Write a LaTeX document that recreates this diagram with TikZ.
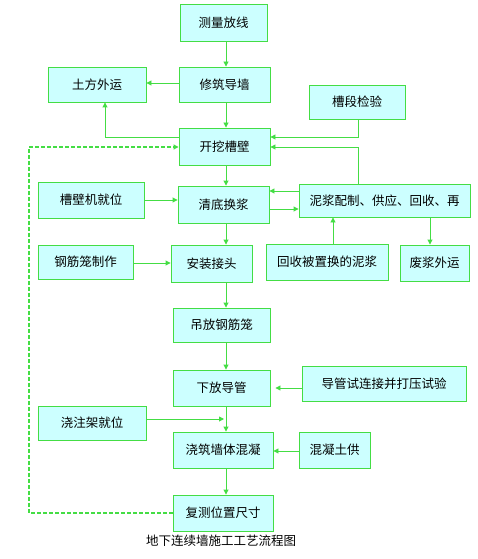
\documentclass[tikz,border=0pt]{standalone}
\usepackage{fontspec}
\setmainfont{Noto Sans CJK SC}
\usetikzlibrary{arrows.meta}
\definecolor{lg}{HTML}{44DD44}
\definecolor{lc}{HTML}{CCFFFF}
\begin{document}
\begin{tikzpicture}[x=1pt,y=-1pt,
  box/.style={draw=lg,fill=lc,line width=0.9pt,inner sep=0pt,font=\fontsize{12.5}{14}\selectfont},
  ar/.style={draw=lg,line width=0.9pt,-{Triangle[length=5pt,width=5pt]}},
  dsh/.style={draw=lg,line width=1.1pt,dash pattern=on 4pt off 2pt,-{Triangle[length=5pt,width=5pt]}}]
\useasboundingbox (0,0) rectangle (477,559);
\newcommand{\bx}[6]{\node[box,minimum width={#4-#2},minimum height={#5-#3}] (#1) at ({(#2+#4)/2},{(#3+#5)/2}) {#6};}
\bx{a}{180}{4}{267}{41}{测量放线}
\bx{b}{179}{67}{270}{102}{修筑导墙}
\bx{c}{48}{67}{146}{102}{土方外运}
\bx{d}{309}{85}{405}{119}{槽段检验}
\bx{e}{179}{128}{270}{165}{开挖槽壁}
\bx{f}{38}{182}{144}{218}{槽壁机就位}
\bx{g}{178}{186}{269}{223}{清底换浆}
\bx{h}{299}{184}{470}{217}{泥浆配制、供应、回收、再}
\bx{i}{38}{245}{133}{279}{钢筋笼制作}
\bx{j}{171}{245}{252}{282}{安装接头}
\bx{k}{266}{244}{388}{280}{回收被置换的泥浆}
\bx{l}{400}{245}{469}{281}{废浆外运}
\bx{m}{173}{308}{270}{342}{吊放钢筋笼}
\bx{n}{173}{370}{270}{406}{下放导管}
\bx{o}{302}{366}{466}{401}{导管试连接并打压试验}
\bx{p}{38}{406}{146}{440}{浇注架就位}
\bx{q}{173}{432}{273}{468}{浇筑墙体混凝}
\bx{r}{299}{432}{370}{468}{混凝土供}
\bx{s}{173}{495}{273}{531}{复测位置尺寸}
\node[font=\fontsize{12.5}{14}\selectfont] (cap) at (221,541) {地下连续墙施工工艺流程图};
\coordinate (cx) at (226,0);
\coordinate (ex) at (105,0);
\coordinate (dx) at (358,0);
\coordinate (lx) at (29,0);
\coordinate (j1) at (226,419);
% main chain
\draw[ar] (a.south -| cx) -- (b.north -| cx);
\draw[ar] (b.south -| cx) -- (e.north -| cx);
\draw[ar] (e.south -| cx) -- (g.north -| cx);
\draw[ar] (g.south -| cx) -- (j.north -| cx);
\draw[ar] (j.south -| cx) -- (m.north -| cx);
\draw[ar] (m.south -| cx) -- (n.north -| cx);
\draw[ar] (n.south -| cx) -- (q.north -| cx);
\draw[ar] (q.south -| cx) -- (s.north -| cx);
% side
\draw[ar] (b.west |- 0,83) -- (c.east |- 0,83);
\draw[ar] (e.west |- 0,137) -- (ex |- 0,137) -- (ex |- c.south);
\draw[ar] (d.south -| dx) -- (dx |- 0,137) -- (e.east |- 0,137);
\draw[ar] (h.north -| dx) -- (dx |- 0,147) -- (e.east |- 0,147);
\draw[ar] (f.east |- 0,200) -- (g.west |- 0,200);
\draw[ar] (h.west |- 0,191) -- (g.east |- 0,191);
\draw[ar] (g.east |- 0,209) -- (h.west |- 0,209);
\draw[ar] (k.north -| 333,0) -- (h.south -| 333,0);
\draw[ar] (h.south -| 430,0) -- (l.north -| 430,0);
\draw[ar] (i.east |- 0,263) -- (j.west |- 0,263);
\draw[ar] (o.west |- 0,388) -- ([xshift=5pt]n.east |- 0,388);
\draw[ar] (p.east |- j1) -- ([xshift=-2pt]j1);
\draw[ar] (r.west |- 0,451) -- (q.east |- 0,451);
\draw[dsh] (s.west |- 0,513) -- (lx |- 0,513) -- (lx |- 0,147) -- (e.west |- 0,147);
\end{tikzpicture}
\end{document}
